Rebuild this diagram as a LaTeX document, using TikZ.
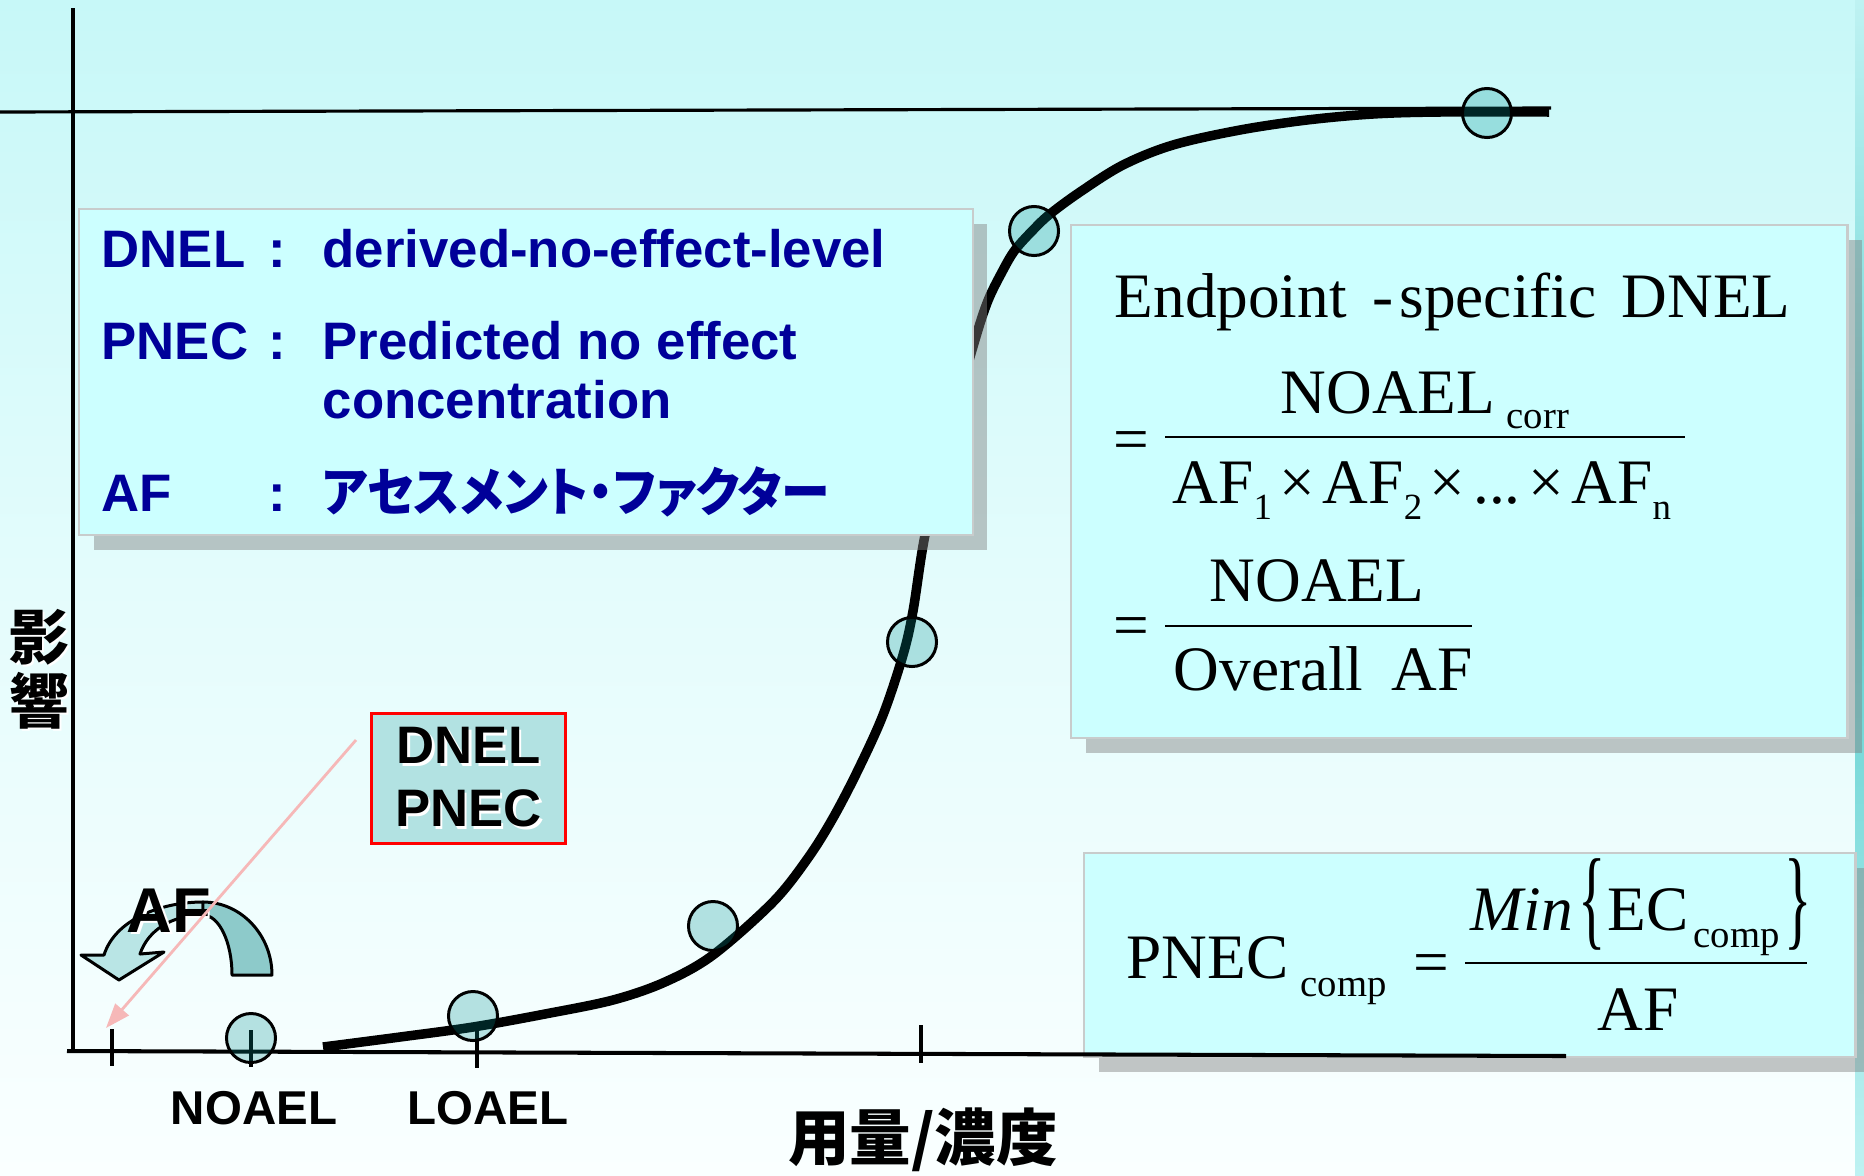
\documentclass[tikz,border=0pt]{standalone}
\usepackage{fontspec}
\usepackage{graphicx}
\setmainfont{Liberation Serif}
\newfontfamily\arialf{Liberation Sans}
\newfontfamily\jpf{Noto Sans CJK JP}
\newfontfamily\jpp[RawFeature=+palt]{Noto Sans CJK JP}
\usetikzlibrary{arrows.meta}
\newcommand\fsz[1]{\fontsize{#1}{#1}\selectfont}
\newcommand\emb[1]{\makebox[0pt][l]{\hspace{0.7pt}\raisebox{-0.7pt}{\color{white}#1}}#1}
\newcommand\lsub[1]{\raisebox{-4.8pt}{\fsz{10.5pt}#1}}
\newcommand\tsp{\hspace{0.12em}}
\definecolor{bgA}{RGB}{199,248,248}
\definecolor{bgB}{RGB}{228,252,252}
\definecolor{bgC}{RGB}{250,255,255}
\definecolor{stripA}{RGB}{190,242,242}
\definecolor{stripB}{RGB}{96,208,208}
\definecolor{boxc}{RGB}{204,255,255}
\definecolor{boxl}{RGB}{200,204,204}
\definecolor{navy}{RGB}{0,0,153}
\definecolor{dotc}{RGB}{0,145,145}
\definecolor{redfill}{RGB}{178,226,226}
\definecolor{pinkc}{RGB}{246,184,184}
\definecolor{afdark}{RGB}{141,202,202}
\definecolor{aflight}{RGB}{185,229,229}
\begin{document}
\begin{tikzpicture}[x=0.01cm,y=-0.01cm,
  infobox/.style={draw=boxl,line width=0.6pt,fill=boxc,inner sep=0,anchor=north west},
  shadowbox/.style={fill=black!50,fill opacity=0.45},
  datapt/.style={circle,draw=black,line width=0.85pt,fill=dotc,fill opacity=0.26,draw opacity=1,minimum size=0.49cm,inner sep=0},
  axisline/.style={line width=1.15pt,black},
  tickline/.style={line width=1.4pt,black},
  bluetxt/.style={anchor=base west,inner sep=0,text=navy,font=\arialf\bfseries\fsz{15pt}},
  fml/.style={anchor=base west,inner sep=0,font=\fsz{18pt}},
  fmlsub/.style={anchor=base west,inner sep=0,font=\fsz{11pt}},
  fracbar/.style={line width=0.7pt},
  boldlbl/.style={anchor=base,inner sep=0,font=\arialf\bfseries\fsz{13.5pt}},
  afshape/.style={draw=black,line width=0.85pt,line join=round},
]
\useasboundingbox (0,0) rectangle (1864,1175);
% background
\shade[top color=bgA,bottom color=bgC,middle color=bgB] (0,0) rectangle (1864,1175);
\shade[top color=stripA,bottom color=stripA,middle color=stripB] (1855,0) rectangle (1864,1175);

% axes (y) and saturation line
\coordinate (yaxTop) at (73,8);
\coordinate (yaxBot) at (73,1053);
\draw[axisline] (yaxTop) -- (yaxBot);
\coordinate (topL) at (0,112);
\coordinate (topR) at (1551,108);
\draw[line width=0.9pt] (topL) -- (topR);

% dose-response curve
\draw[line width=2.7pt,line join=round] plot[smooth,tension=0.55] coordinates {
 (323,1047) (400,1037) (473,1027) (545,1014) (613,1000) (665,982) (713,955)
 (773,902) (808,858) (833,818) (858,770) (883,715) (903,655) (913,611) (925,535) (947,440)
 (972,350) (987,303) (1002,272) (1015,250) (1034,229) (1050,214) (1080,192) (1123,165) (1173,145)
 (1240,130) (1307,120) (1373,114) (1440,112) (1549,112)};

% left definition box
\fill[shadowbox] (94,224) rectangle (987,550);
\node[infobox,minimum width=8.93cm,minimum height=3.26cm] (lbox) at (78,208) {};
% formula box 1
\fill[shadowbox] (1086,240) rectangle (1862,753);
\node[infobox,minimum width=7.76cm,minimum height=5.13cm] (fbox1) at (1070,224) {};
% formula box 2
\fill[shadowbox] (1099,868) rectangle (1870,1072);
\node[infobox,minimum width=7.71cm,minimum height=2.04cm] (fbox2) at (1083,852) {};

% x axis and ticks
\coordinate (xaxL) at (67,1051);
\coordinate (xaxR) at (1566,1056);
\draw[axisline] (xaxL) -- (xaxR);
\draw[tickline] (112,1029) -- (112,1066);
\draw[tickline] (251,1030) -- (251,1067);
\draw[tickline] (477,1031) -- (477,1068);
\draw[tickline] (921,1025) -- (921,1063);

% data points
\node[datapt] (d1) at (251,1038) {};
\node[datapt] (d2) at (473,1016) {};
\node[datapt] (d3) at (713,926) {};
\node[datapt] (d4) at (912,642) {};
\node[datapt] (d5) at (1034,231) {};
\node[datapt] (d6) at (1487,113) {};

% DNEL / PNEC red box
\node[draw=red,line width=0.85pt,fill=redfill,minimum width=1.93cm,minimum height=1.29cm,
  inner sep=0,align=center,font=\arialf\bfseries\fontsize{15pt}{17.9pt}\selectfont]
  (rbox) at (468.5,778.5) {\emb{DNEL}\\\emb{PNEC}};

% AF curved arrow
\filldraw[afshape,fill=aflight] (203,902) .. controls (160,902) and (115,920) .. (104,955)
  -- (81,955) -- (119,980) -- (164,952) -- (140,954)
  .. controls (148,930) and (172,915) .. (203,915) -- cycle;
\filldraw[afshape,fill=afdark] (203,902) .. controls (241,902) and (272,935) .. (272,975)
  -- (232,975) .. controls (232,942) and (219,915) .. (203,915) -- cycle;
\node[anchor=base west,inner sep=0,font=\arialf\bfseries\fsz{18pt}] (aftxt) at (126,932) {\emb{AF}};

% pink arrow
\coordinate (pk1) at (356,740);
\coordinate (pk2) at (106,1028);
\draw[pinkc,line width=0.8pt,-{Triangle[length=7pt,width=5pt]}] (pk1) -- (pk2);

% left box text
\node[bluetxt] (t1a) at (101,267) {DNEL};
\node[bluetxt] (t1b) at (268,267) {:};
\node[bluetxt] (t1c) at (322,267) {derived-no-effect-level};
\node[bluetxt] (t2a) at (101,359) {PNEC};
\node[bluetxt] (t2b) at (268,359) {:};
\node[bluetxt] (t2c) at (322,359) {Predicted no effect};
\node[bluetxt] (t3c) at (322,418) {concentration};
\node[bluetxt] (t4a) at (101,511) {AF};
\node[bluetxt] (t4b) at (268,511) {:};
\node[bluetxt,font=\jpp\bfseries\fsz{15pt}] (t4c) at (322,511) {\scalebox{0.925}[1]{アセスメント・ファクター}};

% formula box 1
\node[fml] (ep) at (1114,317) {Endpoint\hspace{0.4em}-\hspace{0.1em}specific\hspace{0.4em}DNEL};
\node[fml] (eq1) at (1113,460) {=};
\draw[fracbar] (1165,437) -- (1685,437);
\node[fml] (num1) at (1280,413) {NOAEL};
\node[fmlsub] (corr) at (1506,428) {corr};
\node[fml] (den1) at (1172,503) {AF\lsub{1}\tsp×\tsp AF\lsub{2}\tsp×\tsp...\tsp×\tsp AF\lsub{n}};
\node[fml] (eq2) at (1113,646) {=};
\draw[fracbar] (1165,626) -- (1472,626);
\node[fml] (num2) at (1209,601) {NOAEL};
\node[fml] (den2) at (1173,690) {Overall\hspace{0.45em}AF};

% formula box 2
\node[fml] (pnec) at (1126,978) {PNEC};
\node[fmlsub] (comp1) at (1300,996) {comp};
\node[fml] (eq3) at (1413,983) {=};
\draw[fracbar] (1465,963) -- (1807,963);
\node[fml] (mintx) at (1470,930) {\itshape Min};
\node[inner sep=0,font=\fsz{18pt}] (lbr) at (1592,904) {\scalebox{0.9}[1.75]{\{}};
\node[fml] (ec) at (1607,930) {EC};
\node[fmlsub] (comp2) at (1693,947) {comp};
\node[inner sep=0,font=\fsz{18pt}] (rbr) at (1798,904) {\scalebox{0.9}[1.75]{\}}};
\node[fml] (af2) at (1597,1030) {AF};

% axis labels
\node[boldlbl] (noael) at (254,1124) {NOAEL};
\node[boldlbl] (loael) at (488,1124) {LOAEL};
\node[anchor=base,inner sep=0,font=\jpf\bfseries\fsz{17.5pt}] (xlab) at (923,1160) {用量/濃度};
\node[inner sep=0,font=\jpf\bfseries\fsz{17pt}] (ylab1) at (39,638) {\emb{影}};
\node[inner sep=0,font=\jpf\bfseries\fsz{17pt}] (ylab2) at (39,702) {\emb{響}};
\end{tikzpicture}
\end{document}
